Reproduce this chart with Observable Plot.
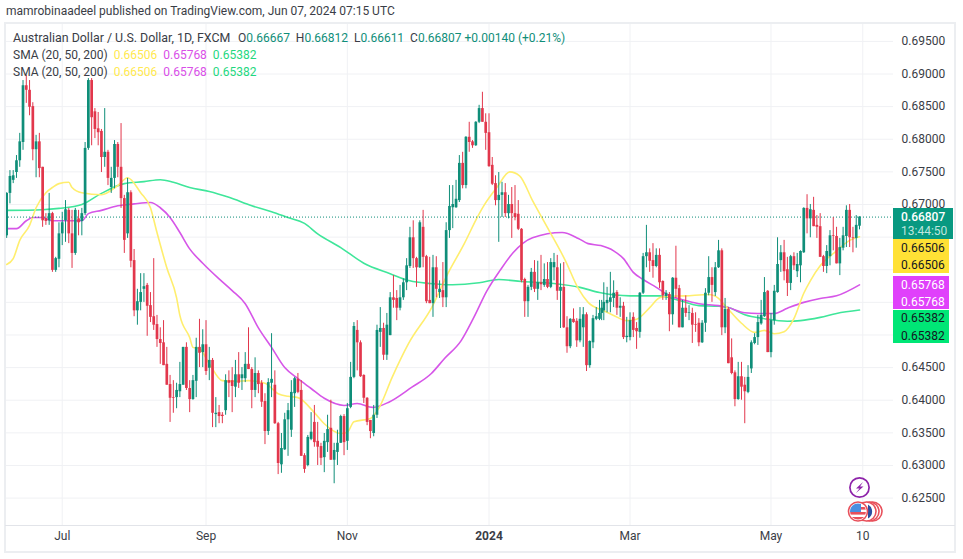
<!DOCTYPE html>
<html>
<head>
<meta charset="utf-8">
<script src="https://cdn.jsdelivr.net/npm/d3@7"></script>
<script src="https://cdn.jsdelivr.net/npm/@observablehq/plot@0.6"></script>
<style>
html,body{margin:0;padding:0;background:#fff;}
#stage{position:relative;width:963px;height:559px;overflow:hidden;font-family:Roboto,sans-serif;color:#3a3d46;}
#stage svg{display:block;}
.t{position:absolute;white-space:pre;line-height:14px;font-size:12px;}
.box{position:absolute;}
</style>
</head>
<body>
<div id="stage"></div>
<script>
// Daily AUD/USD candles, in units of 0.0001. Bar 0 is the first session of July 2023.
const firstBar = -17;
const opens = [
6652,6717,6737,6749,6767,6795,6882,6875,6850,6784,
6796,6757,6678,6675,6686,6599,6616,6655,6675,6691,
6655,6625,6678,6674,6686,6786,6890,6842,6816,6812,
6772,6780,6726,6740,6792,6757,6709,6655,6718,6614,
6537,6550,6570,6576,6545,6528,6516,6493,6488,6455,
6424,6404,6404,6413,6423,6481,6418,6401,6429,6481,
6473,6485,6449,6461,6378,6381,6377,6384,6430,6430,
6420,6439,6433,6433,6455,6447,6415,6441,6426,6398,
6352,6426,6423,6364,6301,6324,6370,6354,6410,6432,
6415,6315,6300,6340,6366,6337,6329,6312,6335,6357,
6308,6320,6334,6375,6337,6389,6435,6507,6488,6438,
6403,6369,6349,6377,6504,6510,6469,6499,6557,6556,
6541,6557,6580,6605,6649,6617,6603,6665,6620,6553,
6548,6603,6565,6568,6557,6660,6695,6695,6706,6763,
6729,6803,6796,6790,6826,6847,6826,6810,6760,6732,
6706,6714,6718,6686,6700,6686,6685,6662,6585,6551,
6573,6596,6570,6580,6576,6585,6573,6603,6603,6567,
6573,6511,6482,6524,6521,6491,6511,6531,6453,6488,
6524,6524,6533,6537,6548,6550,6556,6565,6541,6544,
6496,6496,6527,6510,6504,6564,6620,6626,6614,6605,
6622,6582,6559,6562,6531,6587,6571,6511,6541,6533,
6533,6516,6518,6488,6518,6564,6588,6565,6603,6629,
6511,6539,6465,6442,6401,6436,6423,6412,6448,6487,
6496,6517,6528,6567,6473,6522,6565,6614,6626,6600,
6579,6620,6597,6606,6626,6694,6678,6691,6668,6666,
6620,6605,6620,6652,6651,6609,6633,6651,6691,6649,6648,6666.7];
const highs = [
6718,6752,6752,6775,6809,6890,6898,6890,6856,6806,
6809,6757,6686,6717,6688,6619,6672,6688,6706,6694,
6691,6694,6691,6694,6795,6893,6893,6847,6841,6815,
6847,6783,6757,6798,6795,6824,6714,6740,6721,6631,
6570,6594,6594,6579,6565,6617,6530,6511,6522,6481,
6438,6430,6426,6458,6481,6488,6430,6438,6495,6524,
6508,6522,6481,6464,6404,6392,6381,6439,6445,6450,
6461,6473,6450,6473,6511,6450,6465,6445,6430,6410,
6433,6502,6445,6366,6349,6380,6395,6430,6435,6441,
6430,6318,6346,6381,6392,6366,6334,6349,6377,6400,
6334,6354,6377,6378,6395,6458,6519,6522,6491,6439,
6404,6369,6392,6515,6542,6518,6533,6565,6591,6568,
6576,6586,6617,6665,6675,6619,6675,6691,6622,6619,
6622,6620,6583,6611,6672,6729,6729,6737,6775,6780,
6804,6826,6798,6827,6852,6872,6839,6839,6772,6744,
6749,6734,6732,6714,6726,6729,6706,6663,6587,6576,
6602,6614,6613,6622,6609,6611,6617,6625,6622,6609,
6611,6528,6525,6540,6525,6542,6542,6534,6491,6530,
6542,6553,6553,6580,6573,6596,6583,6568,6557,6550,
6527,6534,6534,6519,6565,6625,6668,6632,6640,6632,
6632,6583,6568,6565,6588,6636,6576,6553,6560,6545,
6541,6534,6525,6522,6571,6620,6603,6611,6645,6632,
6556,6542,6494,6445,6458,6458,6435,6453,6491,6502,
6530,6553,6588,6568,6533,6576,6649,6637,6645,6619,
6622,6626,6625,6629,6695,6715,6700,6711,6683,6686,
6622,6637,6660,6680,6665,6648,6665,6698,6700,6665,6683,6681.2];
const lows = [
6648,6701,6732,6740,6757,6783,6855,6836,6767,6741,
6741,6665,6668,6668,6596,6596,6603,6637,6642,6640,
6602,6622,6652,6652,6683,6783,6790,6801,6790,6749,
6757,6729,6717,6724,6741,6694,6625,6648,6603,6528,
6515,6537,6550,6498,6519,6507,6481,6455,6453,6423,
6366,6380,6387,6404,6423,6415,6381,6400,6404,6450,
6450,6438,6430,6358,6358,6364,6364,6377,6404,6381,
6404,6418,6415,6427,6447,6387,6404,6410,6389,6332,
6346,6404,6363,6286,6288,6323,6314,6343,6389,6410,
6314,6288,6298,6338,6328,6300,6300,6289,6320,6308,
6272,6300,6334,6315,6323,6387,6433,6445,6435,6395,
6361,6341,6344,6372,6481,6461,6461,6499,6541,6522,
6537,6553,6568,6602,6602,6573,6602,6603,6548,6548,
6527,6557,6556,6542,6542,6648,6663,6694,6703,6724,
6724,6780,6786,6789,6824,6826,6783,6757,6729,6698,
6642,6680,6680,6678,6648,6675,6660,6580,6527,6527,
6568,6565,6553,6568,6573,6571,6571,6583,6553,6510,
6510,6472,6479,6518,6481,6488,6481,6444,6449,6479,
6522,6522,6522,6522,6534,6534,6542,6530,6527,6493,
6488,6491,6496,6478,6495,6562,6603,6596,6587,6603,
6571,6553,6553,6505,6515,6556,6511,6511,6527,6522,
6487,6504,6482,6487,6504,6560,6550,6559,6602,6499,
6502,6456,6439,6390,6400,6400,6364,6410,6441,6485,
6484,6515,6527,6473,6465,6515,6564,6596,6583,6559,
6568,6599,6588,6580,6625,6655,6649,6666,6648,6619,
6596,6594,6606,6629,6609,6591,6629,6634,6634,6626,6633,6661.1];
const closes = [
6717,6743,6744,6767,6796,6882,6875,6849,6784,6796,
6755,6675,6674,6686,6599,6617,6655,6672,6692,6655,
6625,6691,6672,6686,6786,6890,6833,6815,6810,6772,
6780,6740,6740,6792,6757,6709,6645,6718,6613,6537,
6551,6565,6574,6544,6527,6515,6493,6487,6453,6423,
6403,6403,6415,6424,6481,6418,6401,6430,6481,6472,
6485,6444,6461,6380,6380,6375,6375,6430,6426,6421,
6439,6426,6439,6455,6447,6415,6441,6424,6397,6352,
6427,6432,6364,6303,6326,6370,6384,6412,6433,6412,
6314,6294,6343,6351,6335,6328,6311,6337,6355,6308,
6323,6334,6375,6335,6387,6435,6513,6488,6436,6403,
6366,6352,6377,6507,6510,6469,6515,6557,6553,6541,
6557,6580,6606,6649,6617,6603,6672,6619,6551,6548,
6603,6570,6570,6557,6660,6697,6700,6708,6763,6729,
6803,6795,6790,6826,6847,6826,6809,6758,6731,6706,
6714,6718,6686,6700,6686,6680,6662,6583,6551,6573,
6596,6570,6580,6577,6585,6573,6611,6611,6567,6573,
6511,6482,6524,6519,6491,6524,6531,6453,6490,6525,
6528,6533,6541,6550,6553,6557,6564,6541,6544,6496,
6498,6522,6507,6505,6564,6620,6626,6613,6605,6622,
6580,6560,6564,6531,6587,6570,6511,6541,6533,6534,
6515,6515,6488,6518,6564,6588,6576,6603,6629,6511,
6539,6456,6441,6401,6436,6420,6413,6435,6488,6496,
6519,6530,6565,6473,6522,6567,6608,6626,6597,6579,
6620,6606,6608,6628,6694,6678,6692,6666,6665,6619,
6605,6628,6652,6651,6609,6634,6652,6691,6649,6648,6668,6680.7];

// Moving averages, read at a handful of bars along each curve.
const sma20Bars = [-17,-15,-13,-10,-8,-5,-3,-1,2,3,6,12,17,20,24,27,29,32,35,36,39,40,42,45,49,53,57,62,66,69,72,77,80,85,87,89,94,96.7,100.6,105.6,112.6,117.5,122.5,126.4,128.4,132.4,136.4,139.4,143.4,148.5,153.5,157.5,160.5,166,169,173,176,180,183,185,191,198,201,203,208,212,215,218,221,224,227,229,232,237,241,244];
const sma20Values = [6608,6617,6645,6668,6695,6718,6726,6732,6734,6726,6718,6715,6729,6741,6718,6695,6657,6603,6557,6530,6496,6481,6479,6456,6430,6429,6430,6426,6410,6406,6404,6381,6364,6349,6351,6367,6372,6389,6435,6487,6542,6594,6640,6680,6698,6726,6750,6744,6706,6660,6614,6571,6550,6537,6530,6522,6524,6542,6557,6559,6560,6562,6556,6545,6518,6504,6507,6502,6505,6525,6564,6583,6606,6629,6645,6650.6];
const sma50Bars = [-17,-14,-11,-9,-6,-3,2,6,8,12,17,22,27,30,33,36,39,43,48,52,56,60,64,68,72,76,80,86,90,94.7,99.6,106.6,112.5,116.5,121.5,125.4,129.4,133.4,137.4,143.4,152.5,157.5,160.5,164.6,169,172,175,178,182,186,190,195,201,204,209,213,218,222,227,232,237,244];
const sma50Values = [6663,6663,6675,6680,6680,6675,6675,6675,6686,6691,6698,6701,6703,6695,6680,6657,6632,6610,6586,6568,6548,6511,6481,6450,6433,6418,6403,6392,6395,6389,6397,6420,6441,6464,6491,6527,6568,6599,6626,6649,6657,6648,6640,6637,6629,6617,6596,6585,6573,6560,6554,6548,6545,6542,6534,6533,6533,6541,6550,6556,6560,6576.8];
const sma200Bars = [-17,-6,-1,6,12,19,25,30,34,39,45,51,58,64,69,74,78,85,92,100,106,112,119,127,133,140,150,158,164,174,183,189,195,201,204,209,215,222,226,232,237,244];
const sma200Values = [6691,6692,6694,6700,6717,6732,6735,6738,6734,6726,6720,6711,6698,6689,6680,6671,6655,6634,6610,6594,6583,6579,6577,6580,6585,6582,6579,6573,6565,6560,6560,6553,6545,6544,6542,6531,6525,6521,6522,6527,6533,6538.2];

// Axis ticks
const priceGrid = [0.625,0.63,0.635,0.64,0.645,0.65,0.655,0.66,0.665,0.67,0.675,0.68,0.685,0.69,0.695];
const priceLabels = [0.625,0.63,0.635,0.64,0.645,0.67,0.675,0.68,0.685,0.69,0.695];
const timeTicks = [0,44,87,130,174,217,245];
const timeLabels = ["Jul","Sep","Nov","2024","Mar","May","10"];
const lastPrice = 0.66807;

const UP = "#0f8e79", DOWN = "#e2374c";
const bars = opens.map((o,k)=>({bar:firstBar+k,o:o/1e4,h:highs[k]/1e4,l:lows[k]/1e4,c:closes[k]/1e4}));
const ups = bars.filter(d=>d.c>=d.o), downs = bars.filter(d=>d.c<d.o);
const candleMarks = (data,color)=>[
  Plot.ruleX(data,{x:"bar",y1:"l",y2:"h",stroke:color,strokeWidth:1}),
  Plot.ruleX(data,{x:"bar",y1:"o",y2:"c",stroke:color,strokeWidth:2.7})
];
const maMark = (xs,ys,color)=>Plot.line(xs.map((b,k)=>({b,v:ys[k]/1e4})),{x:"b",y:"v",stroke:color,strokeWidth:1.6,curve:"monotone-x"});

const chart = Plot.plot({
  width:963,height:559,
  marginLeft:5,marginRight:70,marginTop:23,marginBottom:34,
  style:{fontFamily:"Roboto,sans-serif",background:"transparent"},
  // the bars of this picture are not quite evenly spaced around the new year
  x:{type:"linear",domain:[-17.36,57,130,164,166,244,254.45],range:[5,248,488.5,599,603.3,859,893],axis:null},
  y:{type:"linear",domain:[0.6208,0.69774],axis:null},
  marks:[
    Plot.ruleY(priceGrid,{stroke:"#f0f1f4",strokeWidth:1}),
    Plot.ruleX(timeTicks,{stroke:"#f0f1f4",strokeWidth:1}),
    maMark(sma200Bars,sma200Values,"#3fe69a"),
    maMark(sma50Bars,sma50Values,"#d656e8"),
    maMark(sma20Bars,sma20Values,"#ffee6e"),
    Plot.ruleY([lastPrice],{stroke:UP,strokeWidth:1,strokeDasharray:"1 2"}),
    ...candleMarks(ups,UP),
    ...candleMarks(downs,DOWN),
    Plot.axisY(priceLabels,{anchor:"right",tickSize:0,tickPadding:8,tickFormat:d3.format(".5f"),fontSize:12,label:null,color:"#3a3d46"}),
    Plot.axisX(timeTicks,{anchor:"bottom",tickSize:0,tickPadding:6,tickFormat:d=>timeLabels[timeTicks.indexOf(d)],fontSize:12,label:null,color:"#3a3d46"})
  ]
});
d3.select(chart).selectAll("text").filter(function(){return this.textContent==="2024";}).attr("font-weight","bold");

const stage = document.getElementById("stage");
stage.appendChild(chart);

function box(x,y,w,h,bg){const d=document.createElement("div");d.className="box";d.style.cssText=`left:${x}px;top:${y}px;width:${w}px;height:${h}px;background:${bg}`;stage.appendChild(d);return d;}
function text(x,y,parts,size){const d=document.createElement("div");d.className="t";d.style.left=x+"px";d.style.top=(y-7)+"px";if(size)d.style.fontSize=size+"px";
  parts.forEach(([s,c,w])=>{const sp=document.createElement("span");sp.textContent=s;if(c)sp.style.color=c;if(w)sp.style.fontWeight=w;d.appendChild(sp);});stage.appendChild(d);return d;}

// frame
box(4,22,952,2,"#eceef1");box(4,22,2,531,"#eceef1");box(954,22,2,531,"#eceef1");box(4,551,952,2,"#eceef1");box(5,525,950,1,"#e2e4e9");

// header & legends
text(6,11,[["mamrobinaadeel published on TradingView.com, Jun 07, 2024 07:15 UTC"]],12);
const teal="#0f8e79";
text(13,38,[["Australian Dollar / U.S. Dollar, 1D, FXCM"]],12.4);
text(238,38,[["O"],["0.66667",teal],["  H"],["0.66812",teal],["  L"],["0.66611",teal],["  C"],["0.66807",teal],[" +0.00140 (+0.21%)",teal]],12);
for(const y of [55,72]) text(13,y,[["SMA (20, 50, 200)  "],["0.66506","#ffe94f"],["  "],["0.65768","#d94fe8"],["  "],["0.65382","#1fd87f"]],12);

// price labels
box(893,208,60,31,"#089981");
box(893,239,56,34,"#ffe135");
box(893,276,56,33,"#e040fb");
box(893,310,56,33,"#00e676");
text(901,217,[["0.66807","#fff","500"]]);
text(901,231,[["13:44:50","#bfe6de"]]);
text(901,248,[["0.66506","#131722"]]);
text(901,265,[["0.66506","#131722"]]);
text(901,285,[["0.65768","#fff"]]);
text(901,302,[["0.65768","#fff"]]);
text(901,318,[["0.65382","#131722"]]);
text(901,335.5,[["0.65382","#131722"]]);

// event icons
const icons=document.createElementNS("http://www.w3.org/2000/svg","svg");
icons.setAttribute("width",60);icons.setAttribute("height",70);
icons.style.cssText="position:absolute;left:835px;top:470px";
icons.innerHTML=`
<circle cx="24.5" cy="17.5" r="9.6" fill="#fff" stroke="#8e24aa" stroke-width="1.7"/>
<path d="M28 12 L21 18.5 H24.5 L21 23 L28.5 16.5 H25 Z" fill="#8e24aa"/>
<defs><clipPath id="fl"><circle cx="23" cy="41.5" r="8"/></clipPath></defs>
<circle cx="37.5" cy="41.5" r="9.5" fill="#fff" stroke="#e8505b" stroke-width="1.6"/>
<circle cx="34.5" cy="41.5" r="9.5" fill="#fff" stroke="#e8505b" stroke-width="1.6"/>
<circle cx="31.5" cy="41.5" r="9.5" fill="#fff" stroke="#e8505b" stroke-width="1.6"/>
<path d="M33 34.5 A8 8 0 0 1 33 48.5 Z" fill="#2b4ea0"/>
<circle cx="23" cy="41.5" r="9.5" fill="#fff" stroke="#e8505b" stroke-width="1.6"/>
<g clip-path="url(#fl)">
<rect x="14" y="33" width="18" height="17" fill="#fff"/>
<rect x="14" y="42" width="18" height="2.6" fill="#e8505b"/>
<rect x="14" y="47" width="18" height="3" fill="#e8505b"/>
<rect x="23" y="37" width="9" height="2.6" fill="#e8505b"/>
<rect x="14" y="33" width="12" height="9" fill="#4a8fe0"/>
</g>`;
stage.appendChild(icons);
</script>
</body>
</html>
